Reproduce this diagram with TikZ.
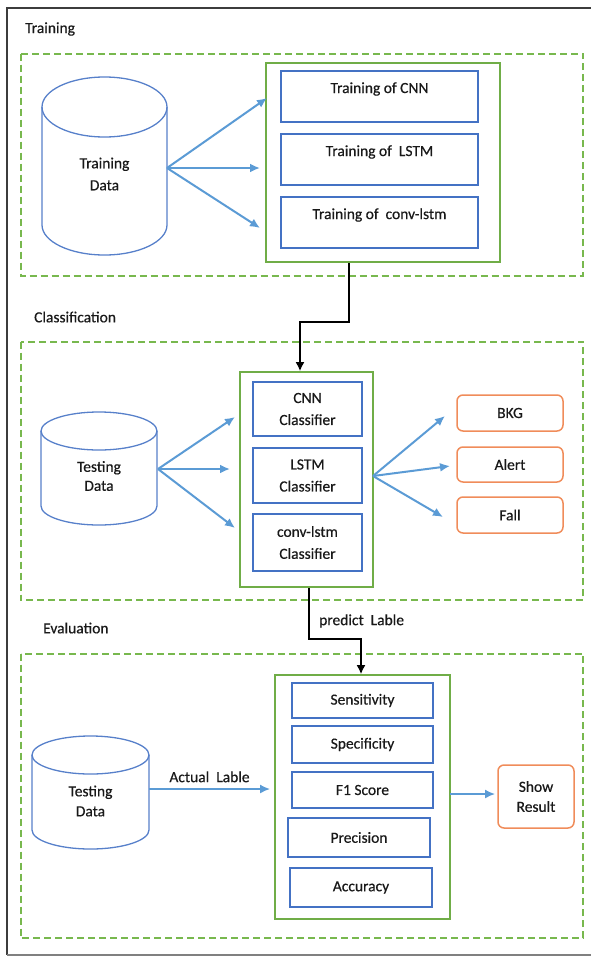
\documentclass[tikz,border=0pt]{standalone}
\usepackage{fontspec}
\setmainfont{Carlito}[FakeBold=0.5]
\usetikzlibrary{arrows.meta,calc}
\definecolor{dgreen}{RGB}{120,184,78}
\definecolor{sgreen}{RGB}{112,173,71}
\definecolor{bbox}{RGB}{68,114,196}
\definecolor{barrow}{RGB}{91,155,213}
\definecolor{obox}{RGB}{240,140,90}
\definecolor{framec}{RGB}{60,60,60}
\begin{document}
\begin{tikzpicture}[x=1pt,y=-1pt,
  every node/.style={font=\fontsize{15.5}{22}\selectfont, text=black!90},
  dashbox/.style={draw=dgreen, line width=2pt, dash pattern=on 7pt off 4pt},
  greenbox/.style={draw=sgreen, line width=1.6pt, inner sep=0pt},
  bluebox/.style={draw=bbox, line width=1.5pt, inner sep=0pt, align=center},
  orbox/.style={draw=obox, line width=1.5pt, rounded corners=6pt, inner sep=0pt, align=center},
  cyl/.style={draw=bbox!90, line width=1.3pt},
  cyltext/.style={align=center, inner sep=0pt},
  barr/.style={draw=barrow, line width=2pt, -{Latex[length=10pt,width=9pt]}},
  thinarr/.style={draw=barrow, line width=1.5pt, -{Latex[length=10pt,width=9pt]}},
  blk/.style={draw=black, line width=2.6pt, -{Latex[length=9pt,width=9pt]}},
  sectlabel/.style={anchor=west, inner sep=0pt},
]
\useasboundingbox (0,0) rectangle (590,956);
% outer frame
\draw[framec, line width=2pt] (591,7.5) -- (7,7.5) -- (7,955);
\draw[gray, line width=1.5pt] (7,955) -- (591,955);

% ---------------- Training ----------------
\node[sectlabel] (lt) at (25,29) {Training};
\draw[dashbox] (20.5,53.5) rectangle (583,275.5);
\draw[cyl] (42,107) -- (42,225) arc[start angle=180, end angle=0, x radius=62.5, y radius=30] -- (167,107);
\draw[cyl] (104.5,107) ellipse [x radius=62.5, y radius=30];
\node[cyltext] (td) at (104.5,174) {Training\\Data};
\coordinate (tdr) at (167,168);

\node[greenbox, minimum width=234pt, minimum height=199pt] (tg) at (383,162.5) {};
\node[bluebox, minimum width=197pt, minimum height=51pt, label={[yshift=7.5pt]center:{Training of CNN}}] (t1) at (379.5,96.5) {};
\node[bluebox, minimum width=197pt, minimum height=51pt, label={[yshift=7.5pt]center:{Training of~ LSTM}}] (t2) at (379.5,159.5) {};
\node[bluebox, minimum width=197pt, minimum height=51pt, label={[yshift=7.5pt]center:{Training of~ conv-lstm}}] (t3) at (379.5,222.5) {};
\coordinate (ta1) at (267,98);
\coordinate (ta2) at (260,168);
\coordinate (ta3) at (260,228);
\draw[barr] (tdr) -- (ta1);
\draw[barr] (tdr) -- (ta2);
\draw[barr] (tdr) -- (ta3);

% ---------------- Classification ----------------
\node[sectlabel] (lc) at (34,317) {Classification};
\draw[dashbox] (20.5,341.5) rectangle (583,600);
\draw[cyl] (41,431) -- (41,506) arc[start angle=180, end angle=0, x radius=58, y radius=19] -- (157,431);
\draw[cyl] (99,431) ellipse [x radius=58, y radius=19];
\node[cyltext, font=\fontsize{15.5}{19}\selectfont] (cd) at (99,476) {Testing\\Data};
\coordinate (cdr) at (158,469);

\node[greenbox, minimum width=133pt, minimum height=215pt] (cg) at (306.5,479.5) {};
\node[bluebox, minimum width=109pt, minimum height=54pt] (c1) at (307.5,409) {CNN\\Classifier};
\node[bluebox, minimum width=109pt, minimum height=55pt] (c2) at (307.5,475.5) {LSTM\\Classifier};
\node[bluebox, minimum width=109pt, minimum height=57pt] (c3) at (307.5,542.5) {conv-lstm\\Classifier};
\coordinate (ca1) at (235,417);
\coordinate (ca2) at (230,469);
\coordinate (ca3) at (235,528);
\draw[barr] (cdr) -- (ca1);
\draw[barr] (cdr) -- (ca2);
\draw[barr] (cdr) -- (ca3);

\node[orbox, minimum width=106pt, minimum height=36pt] (bkg) at (510,413) {BKG};
\node[orbox, minimum width=106pt, minimum height=35pt] (alert) at (510,464.5) {Alert};
\node[orbox, minimum width=106pt, minimum height=36pt] (fall) at (510,515) {Fall};
\coordinate (cgr) at (373,476);
\coordinate (oa1) at (445,416);
\coordinate (oa2) at (450,466);
\coordinate (oa3) at (443,517);
\draw[barr] (cgr) -- (oa1);
\draw[barr] (cgr) -- (oa2);
\draw[barr] (cgr) -- (oa3);

% ---------------- Evaluation ----------------
\node[sectlabel] (le) at (43,628) {Evaluation};
\draw[dashbox] (20.5,653.5) rectangle (583,938);
\draw[cyl] (32,755) -- (32,830) arc[start angle=180, end angle=0, x radius=58.5, y radius=19] -- (149,755);
\draw[cyl] (90.5,755) ellipse [x radius=58.5, y radius=19];
\node[cyltext, font=\fontsize{15.5}{20}\selectfont] (ed) at (90.5,801) {Testing\\Data};
\coordinate (edr) at (149,789);

\node[greenbox, minimum width=175pt, minimum height=244pt] (eg) at (362.5,797) {};
\node[bluebox, minimum width=141pt, minimum height=35pt] (sens) at (362.5,700.5) {Sensitivity};
\node[bluebox, minimum width=141pt, minimum height=37pt] (spec) at (362.5,744.5) {Specificity};
\node[bluebox, minimum width=141pt, minimum height=36pt] (f1) at (362.5,790) {F1 Score};
\node[bluebox, minimum width=142pt, minimum height=39pt] (prec) at (359,837.5) {Precision};
\node[bluebox, minimum width=142pt, minimum height=39pt] (acc) at (361,887.5) {Accuracy};
\node[orbox, minimum width=76pt, minimum height=63pt, font=\fontsize{15.5}{20}\selectfont] (show) at (536,796.5) {Show\\Result};

\coordinate (ea) at (270,789);
\draw[thinarr] (edr) -- node[above=6pt, inner sep=0pt] (al) {Actual~ Lable} (ea);
\coordinate (egr) at (450,794);
\coordinate (sa) at (495,794);
\draw[thinarr] (egr) -- (sa);

% ---------------- black connectors ----------------
\draw[blk] ([xshift=-34pt]tg.south) -- ++(0,59) -| ([xshift=-6.5pt]cg.north);
\draw[blk] ([xshift=2.5pt]cg.south) -- ++(0,51) -| ([xshift=-1.5pt]eg.north);
\node[anchor=west, inner sep=0pt] (pl) at (319,621) {predict~ Lable};
\end{tikzpicture}
\end{document}
